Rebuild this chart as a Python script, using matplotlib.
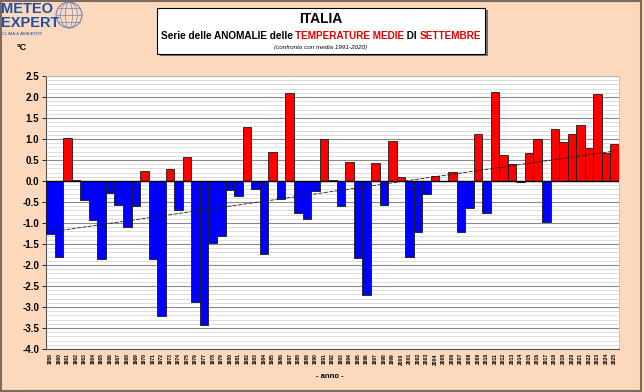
import numpy as np
import matplotlib.pyplot as plt
from matplotlib.patches import Rectangle, Circle, Ellipse

# DATA
years = list(range(1959, 2026))
anomalies = [
    -1.26, -1.81, 1.03, 0.03, -0.46, -0.92, -1.85, -0.28, -0.56, -1.10,   # 1959-1968
    -0.60, 0.25, -1.85, -3.21, 0.28, -0.70, 0.56, -2.88, -3.44, -1.47,    # 1969-1978
    -1.32, -0.22, -0.36, 1.28, -0.20, -1.73, 0.70, -0.42, 2.10, -0.75,    # 1979-1988
    -0.90, -0.23, 1.01, 0.02, -0.59, 0.46, -1.83, -2.72, 0.44, -0.56,     # 1989-1998
    0.96, 0.09, -1.81, -1.21, -0.30, 0.11, -0.01, 0.22, -1.21, -0.64,     # 1999-2008
    1.13, -0.76, 2.13, 0.61, 0.41, -0.02, 0.66, 1.01, -0.98, 1.25,        # 2009-2018
    0.94, 1.13, 1.34, 0.79, 2.06, 0.67, 0.87,                             # 2019-2025
]
y_ticks = np.arange(-4.0, 2.51, 0.5)

BG = '#FCD9BC'
plt.rcParams['font.family'] = ['Liberation Sans', 'DejaVu Sans']

fig = plt.figure(figsize=(6.44, 3.92), dpi=100, facecolor=BG)
W, H = 644, 392

def fx(px):
    return px / W

def fy(py):
    return 1 - py / H

# outer frame
fig.patches.append(Rectangle((0.002, 0.003), 0.994, 0.994, transform=fig.transFigure,
                             fill=False, edgecolor='#7d6a5c', linewidth=1.5))

ax = fig.add_axes([fx(46), fy(349), fx(619) - fx(46), fy(76) - fy(349)])
ax.set_facecolor('white')

x = np.arange(len(years))
vals = np.array(anomalies)
colors = ['#FF0000' if v >= 0 else '#0000FF' for v in vals]
ax.bar(x, vals, width=1.0, color=colors, edgecolor='#1a1a1a', linewidth=0.6, zorder=3)

# trend line
coef = np.polyfit(x, vals, 1)
ax.plot(x, np.polyval(coef, x), color='#202020', linewidth=0.6, dashes=(5, 1.5), zorder=4)

ax.axhline(0, color='black', linewidth=1.0, zorder=4)

ax.set_xlim(-0.5, len(years) - 0.5)
ax.set_ylim(-4.0, 2.5)
ax.set_yticks(y_ticks)
ax.set_yticklabels([f'{t:.1f}' for t in y_ticks], fontsize=7, fontweight='bold')
ax.set_yticks(np.arange(-4.0, 2.51, 0.1), minor=True)
ax.grid(axis='y', which='major', color='#8a8a8a', linewidth=0.8, zorder=0)
ax.grid(axis='y', which='minor', color='#cfcfcf', linewidth=0.5, zorder=0)
ax.tick_params(axis='y', which='minor', length=0)
ax.tick_params(axis='y', which='major', length=3, width=0.6, pad=2)

ax.set_xticks(x)
ax.set_xticklabels([str(y) for y in years], rotation=90, fontsize=3.6, fontweight='bold')
ax.tick_params(axis='x', length=0, pad=3)

for side in ['top', 'right']:
    ax.spines[side].set_color('#c0c0c0')
    ax.spines[side].set_linewidth(0.6)
ax.spines['left'].set_color('#555555')
ax.spines['bottom'].set_color('#555555')

# title box with shadow
fig.patches.append(Rectangle((fx(160), fy(56)), fx(328), fy(8) - fy(54), transform=fig.transFigure,
                             facecolor='#6f6f6f', edgecolor='none', zorder=1))
fig.patches.append(Rectangle((fx(157), fy(54)), fx(328), fy(8) - fy(54), transform=fig.transFigure,
                             facecolor='white', edgecolor='black', linewidth=0.8, zorder=2))
fig.text(fx(321), fy(19), 'ITALIA', ha='center', va='center', fontsize=10, fontweight='bold', zorder=5)

# coloured subtitle drawn piece by piece
parts = [('Serie delle ANOMALIE delle ', 'black'), ('TEMPERATURE MEDIE', '#E00000'),
         (' DI ', 'black'), ('SETTEMBRE', '#E00000')]
renderer = fig.canvas.get_renderer()
texts = []
total = 0
for s, c in parts:
    t = fig.text(0, fy(36), s, ha='left', va='center', fontsize=7.2, fontweight='bold', color=c, zorder=5)
    w = t.get_window_extent(renderer).width
    texts.append((t, w))
    total += w
start = 321 - total / 2
for t, w in texts:
    t.set_x(fx(start))
    start += w
fig.text(fx(321), fy(47.5), '(confronto con media 1991-2020)', ha='center', va='center',
         fontsize=4.5, style='italic', zorder=5)

# logo
fig.text(fx(1), fy(9), 'METEO', ha='left', va='center', fontsize=10.5, fontweight='bold', color='#1f4fa8')
fig.text(fx(1), fy(23), 'EXPERT', ha='left', va='center', fontsize=10.5, fontweight='bold', color='#1f4fa8')
fig.text(fx(2), fy(34), 'CLIMA & AMBIENTE', ha='left', va='center', fontsize=3.2, color='#1f4fa8')
lax = fig.add_axes([fx(55), fy(30), fx(28), fy(0) - fy(30)])
lax.set_xlim(-1, 1)
lax.set_ylim(-1, 1)
lax.set_aspect('equal')
lax.axis('off')
lax.add_patch(Circle((0, 0), 0.92, fill=False, edgecolor='#6b86b8', linewidth=0.8))
for wdt in [0.5, 1.2]:
    lax.add_patch(Ellipse((0, 0), wdt, 1.84, fill=False, edgecolor='#6b86b8', linewidth=0.5))
for yy in [-0.5, 0, 0.5]:
    hw = np.sqrt(0.92 ** 2 - yy ** 2)
    lax.plot([-hw, hw], [yy, yy], color='#6b86b8', linewidth=0.5)

fig.text(fx(22), fy(47), '°C', ha='center', va='center', fontsize=6.5, fontweight='bold')
fig.text(fx(330), fy(377), '- anno -', ha='center', va='center', fontsize=5.5, fontweight='bold')

fig.savefig('out.png', dpi=100, facecolor=BG)
